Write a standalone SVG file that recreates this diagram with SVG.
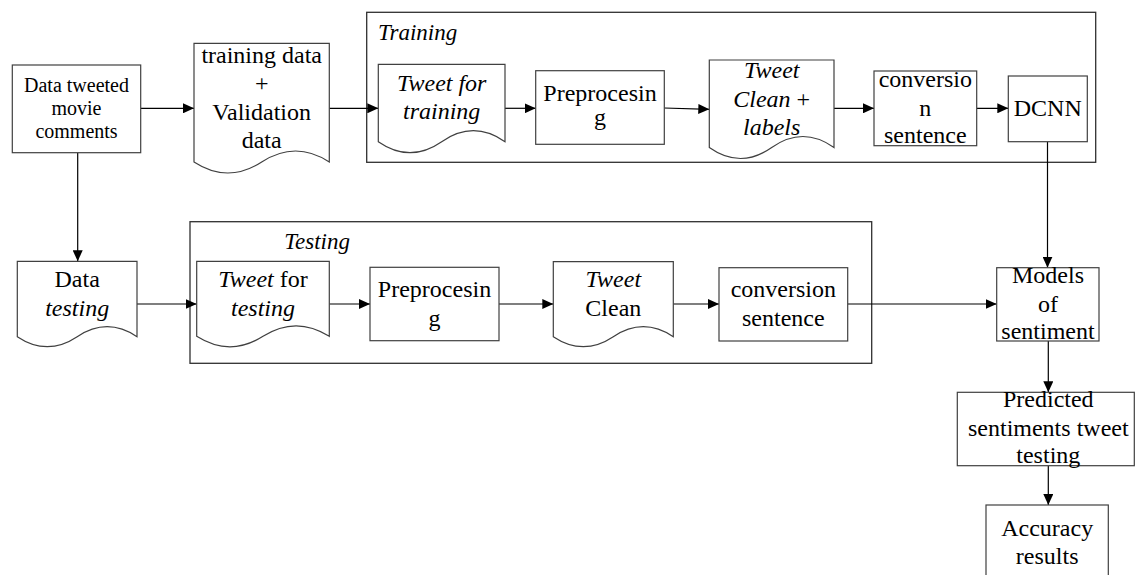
<svg xmlns="http://www.w3.org/2000/svg" width="1135" height="575" viewBox="0 0 1135 575">
<style>
text{font-family:"Liberation Serif","Times New Roman",serif;font-size:24px;fill:#000;text-anchor:middle}
.s{font-size:20px}
.i{font-style:italic}
.box{fill:#fff;stroke:#404040;stroke-width:1.2}
.cont{fill:none;stroke:#303030;stroke-width:1.3}
.ln{fill:none;stroke:#000;stroke-width:1.2}
.lbl{text-anchor:start;font-style:italic}
</style>
<defs>
<marker id="ah" markerUnits="userSpaceOnUse" markerWidth="12" markerHeight="10" refX="11" refY="5" orient="auto">
<path d="M0,0 L11,5 L0,10 Z" fill="#000"/>
</marker>
</defs>
<rect x="0" y="0" width="1135" height="575" fill="#fff"/>

<g id="training-container">
<rect class="cont" x="366.7" y="12.3" width="729" height="150"/>
<text class="lbl" x="378" y="40" style="font-size:23px">Training</text>
</g>
<g id="testing-container">
<rect class="cont" x="190" y="221.7" width="681.7" height="141.6"/>
<text class="lbl" x="284.3" y="249.3" style="font-size:23px">Testing</text>
</g>

<g id="connectors">
<path class="ln" d="M140.7,108.3 H194" marker-end="url(#ah)"/>
<path class="ln" d="M329.3,108.3 H378.3" marker-end="url(#ah)"/>
<path class="ln" d="M505,108.3 H535.7" marker-end="url(#ah)"/>
<path class="ln" d="M664.3,108 L709.3,109.3" marker-end="url(#ah)"/>
<path class="ln" d="M834,108.3 H874" marker-end="url(#ah)"/>
<path class="ln" d="M976.7,108.3 H1008.3" marker-end="url(#ah)"/>
<path class="ln" d="M1047.5,141.7 V267.7" marker-end="url(#ah)"/>
<path class="ln" d="M77.7,152.7 V261.3" marker-end="url(#ah)"/>
<path class="ln" d="M137,304 H196.7" marker-end="url(#ah)"/>
<path class="ln" d="M329.3,304 H370" marker-end="url(#ah)"/>
<path class="ln" d="M499,304 H553.3" marker-end="url(#ah)"/>
<path class="ln" d="M673.3,304 H719" marker-end="url(#ah)"/>
<path class="ln" d="M847.7,304 H996.7" marker-end="url(#ah)"/>
<path class="ln" d="M1048.3,341 V392.3" marker-end="url(#ah)"/>
<path class="ln" d="M1048.3,465.7 V505" marker-end="url(#ah)"/>
</g>

<g id="data-tweeted">
<rect class="box" x="12.3" y="65" width="128.4" height="87.7"/>
<text class="s" x="76.5" y="91.7">Data tweeted</text>
<text class="s" x="76.5" y="115">movie</text>
<text class="s" x="76.5" y="138.3">comments</text>
</g>

<g id="training-validation">
<path class="box" d="M194,162 Q227.8,184 261.7,162 T329.3,162 V43.3 H194 Z"/>
<text x="261.7" y="63.3">training data</text>
<text x="261.7" y="91.3">+</text>
<text x="261.7" y="119.7">Validation</text>
<text x="261.7" y="147.7">data</text>
</g>

<g id="tweet-for-training">
<path class="box" d="M378.3,141.7 Q410,163.7 441.7,141.7 T505,141.7 V64.3 H378.3 Z"/>
<text class="i" x="441.7" y="90.7">Tweet for</text>
<text class="i" x="441.7" y="119">training</text>
</g>

<g id="preprocessing-train">
<rect class="box" x="535.7" y="70.7" width="128.6" height="73.6"/>
<text x="600" y="101">Preprocesin</text>
<text x="600" y="125">g</text>
</g>

<g id="tweet-clean-labels">
<path class="box" d="M709.3,147.5 Q740.5,169.5 771.7,147.5 T834,147.5 V60 H709.3 Z"/>
<text class="i" x="771.7" y="78.3">Tweet</text>
<text x="771.7" y="106.7"><tspan class="i">Clean</tspan> +</text>
<text class="i" x="771.7" y="135">labels</text>
</g>

<g id="conversion-train">
<rect class="box" x="874" y="71" width="102.7" height="74.7"/>
<text x="925.3" y="87.3">conversio</text>
<text x="925.3" y="116">n</text>
<text x="925.3" y="143.3">sentence</text>
</g>

<g id="dcnn">
<rect class="box" x="1008.3" y="76" width="79" height="65.7"/>
<text x="1047.8" y="116">DCNN</text>
</g>

<g id="data-testing">
<path class="box" d="M17.3,336.7 Q47.2,356.7 77.2,336.7 T137,336.7 V261.3 H17.3 Z"/>
<text x="77.2" y="287.3">Data</text>
<text class="i" x="77.2" y="316">testing</text>
</g>

<g id="tweet-for-testing">
<path class="box" d="M196.7,336.3 Q230,357.3 263,336.3 T329.3,336.3 V261.3 H196.7 Z"/>
<text x="263" y="287.3"><tspan class="i">Tweet</tspan> for</text>
<text class="i" x="263" y="316">testing</text>
</g>

<g id="preprocessing-test">
<rect class="box" x="370" y="267.3" width="129" height="73.4"/>
<text x="434.5" y="297.3">Preprocesin</text>
<text x="434.5" y="326">g</text>
</g>

<g id="tweet-clean-test">
<path class="box" d="M553.3,336.7 Q583.3,356.7 613.3,336.7 T673.3,336.7 V261.7 H553.3 Z"/>
<text class="i" x="613.3" y="287.3">Tweet</text>
<text x="613.3" y="316">Clean</text>
</g>

<g id="conversion-test">
<rect class="box" x="719" y="267.7" width="128.7" height="73.3"/>
<text x="783.3" y="296.7">conversion</text>
<text x="783.3" y="325.7">sentence</text>
</g>

<g id="models">
<rect class="box" x="996.7" y="267.7" width="102.3" height="73.3"/>
<text x="1048" y="283.3">Models</text>
<text x="1048" y="311.7">of</text>
<text x="1048" y="339">sentiment</text>
</g>

<g id="predicted">
<rect class="box" x="957.3" y="392.3" width="177" height="73.4"/>
<text x="1048.3" y="406.7">Predicted</text>
<text x="1048.3" y="435.7">sentiments tweet</text>
<text x="1048.3" y="463.3">testing</text>
</g>

<g id="accuracy">
<rect class="box" x="986" y="505" width="122.3" height="80"/>
<text x="1047.2" y="535.7">Accuracy</text>
<text x="1047.2" y="564">results</text>
</g>
</svg>
